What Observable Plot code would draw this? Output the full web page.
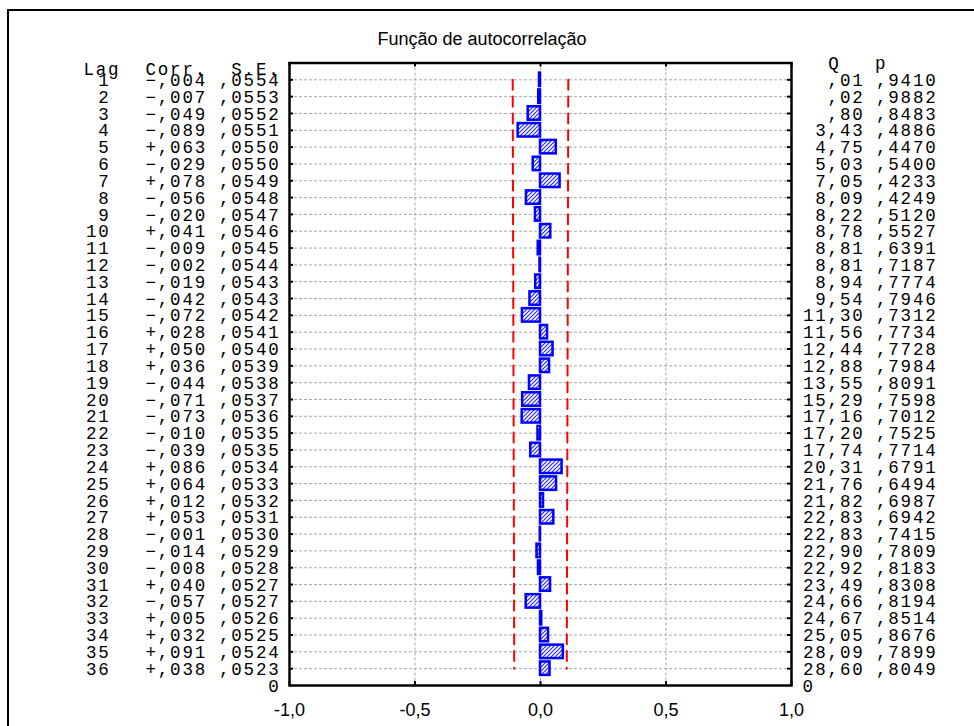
<!DOCTYPE html>
<html><head><meta charset="utf-8">
<script src="https://cdn.jsdelivr.net/npm/d3@7"></script>
<script src="https://cdn.jsdelivr.net/npm/@observablehq/plot@0.6"></script>
<style>
html,body{margin:0;padding:0;background:#fff;}
#wrap{position:relative;width:974px;height:726px;overflow:hidden;background:#fff;}
#wrap svg{position:absolute;left:0;top:0;background:transparent;}
#border{position:absolute;left:6.7px;top:9.3px;width:1000px;height:1000px;border-left:2.5px solid #000;border-top:2.5px solid #000;pointer-events:none;}
g[font-family="Liberation Mono"]{letter-spacing:1.8px;}
</style></head><body><div id="wrap"></div>
<script>
// ---- data ----
const title = "Função de autocorrelação";
const lags = [1,2,3,4,5,6,7,8,9,10,11,12,13,14,15,16,17,18,19,20,21,22,23,24,25,26,27,28,29,30,31,32,33,34,35,36];
const corr = [-.004,-.007,-.049,-.089,.063,-.029,.078,-.056,-.020,.041,-.009,-.002,-.019,-.042,-.072,.028,.050,.036,-.044,-.071,-.073,-.010,-.039,.086,.064,.012,.053,-.001,-.014,-.008,.040,-.057,.005,.032,.091,.038];
const se = [.0554,.0553,.0552,.0551,.0550,.0550,.0549,.0548,.0547,.0546,.0545,.0544,.0543,.0543,.0542,.0541,.0540,.0539,.0538,.0537,.0536,.0535,.0535,.0534,.0533,.0532,.0531,.0530,.0529,.0528,.0527,.0527,.0526,.0525,.0524,.0523];
const qStat = [.01,.02,.80,3.43,4.75,5.03,7.05,8.09,8.22,8.78,8.81,8.81,8.94,9.54,11.30,11.56,12.44,12.88,13.55,15.29,17.16,17.20,17.74,20.31,21.76,21.82,22.83,22.83,22.90,22.92,23.49,24.66,24.67,25.05,28.09,28.60];
const pVal = [.9410,.9882,.8483,.4886,.4470,.5400,.4233,.4249,.5120,.5527,.6391,.7187,.7774,.7946,.7312,.7734,.7728,.7984,.8091,.7598,.7012,.7525,.7714,.6791,.6494,.6987,.6942,.7415,.7809,.8183,.8308,.8194,.8514,.8676,.7899,.8049];
const xTicks = [-1, -0.5, 0, 0.5, 1];
const leftHeaders = ["Lag", "Corr.", "S.E."];
const rightHeaders = ["Q", "p"];
const bottomLag = ["0"];

// ---- formatting ----
const fmtCorr = c => (c < 0 ? "−" : "+") + "," + String(Math.round(Math.abs(c) * 1000)).padStart(3, "0");
const fmtSE = s => "," + String(Math.round(s * 10000)).padStart(4, "0");
const fmtQ = v => v.toFixed(2).replace(".", ",").replace(/^0/, "");
const fmtP = v => "," + String(Math.round(v * 10000)).padStart(4, "0");
const fmtX = d => d.toFixed(1).replace(".", ",");

const rows = lags.map((lag, i) => ({lag, corr: corr[i], se: se[i], q: qStat[i], p: pVal[i]}));

const W = 974, H = 726;
const mL = 289, mR = 183, mT = 62.5, mB = 41;
const FW = W - mL - mR, FH = H - mT - mB;
const mono = {fontFamily: "Liberation Mono", fontSize: 17.5, fill: "#000", lineAnchor: "middle"};
const sans = {fontFamily: "Liberation Sans", fontSize: 18, fill: "#000", lineAnchor: "middle"};
const grid = {stroke: "#a8a8a8", strokeWidth: 1, strokeDasharray: "3,2"};
const red = {stroke: "#ff0000", strokeWidth: 2, strokeDasharray: "10,6.8"};

const svg = Plot.plot({
  width: W, height: H,
  marginLeft: mL, marginRight: mR, marginTop: mT, marginBottom: mB,
  x: {domain: [-1, 1], axis: null},
  y: {domain: [0, 37], reverse: true, axis: null},
  marks: [
    Plot.ruleY(lags, {y: d => d, ...grid}),
    Plot.ruleX(xTicks.slice(1, -1), {x: d => d, ...grid}),
    Plot.line(rows, {x: d => -2 * d.se, y: "lag", ...red}),
    Plot.line(rows, {x: d => 2 * d.se, y: "lag", ...red}),
    Plot.rect(rows, {x1: 0, x2: "corr", y1: d => d.lag - 0.4, y2: d => d.lag + 0.4,
      fill: "url(#hatch)", stroke: "#0000ff", strokeWidth: 2.5}),
    Plot.frame({stroke: "#000", strokeWidth: 2.5}),
    Plot.tickY(lags, {y: d => d, insetRight: FW - 4, stroke: "#000", strokeWidth: 2}),
    Plot.tickY(lags, {y: d => d, insetLeft: FW - 4, stroke: "#000", strokeWidth: 2}),
    Plot.tickX(xTicks, {x: d => d, insetTop: FH - 4, stroke: "#000", strokeWidth: 2}),
    Plot.tickX(xTicks, {x: d => d, insetBottom: FH - 4, stroke: "#000", strokeWidth: 2}),
    // title
    Plot.text([title], {text: d => d, frameAnchor: "top", dx: -58.5, dy: -24, ...sans}),
    // x tick labels
    Plot.text(xTicks, {x: d => d, text: fmtX, frameAnchor: "bottom", dy: 25, ...sans}),
    // left table
    Plot.text(leftHeaders.slice(0, 1), {text: d => d, frameAnchor: "top-left", textAnchor: "start", dx: -206, dy: 6, ...mono}),
    Plot.text(leftHeaders.slice(1, 2), {text: d => d, frameAnchor: "top-left", textAnchor: "end", dx: -82.5, dy: 6, ...mono}),
    Plot.text(leftHeaders.slice(2, 3), {text: d => d, frameAnchor: "top-left", textAnchor: "end", dx: -9, dy: 6, ...mono}),
    Plot.text(rows, {y: "lag", text: d => String(d.lag), frameAnchor: "left", textAnchor: "end", dx: -179, dy: 0.5, ...mono}),
    Plot.text(rows, {y: "lag", text: d => fmtCorr(d.corr), frameAnchor: "left", textAnchor: "end", dx: -82.5, dy: 0.5, ...mono}),
    Plot.text(rows, {y: "lag", text: d => fmtSE(d.se), frameAnchor: "left", textAnchor: "end", dx: -9, dy: 0.5, ...mono}),
    Plot.text(bottomLag, {text: d => d, frameAnchor: "bottom-left", textAnchor: "end", dx: -9, dy: 0.5, ...mono}),
    // right table
    Plot.text(rightHeaders.slice(0, 1), {text: d => d, frameAnchor: "top-right", textAnchor: "end", dx: 49, dy: 0.5, ...mono}),
    Plot.text(rightHeaders.slice(1, 2), {text: d => d, frameAnchor: "top-right", textAnchor: "start", dx: 83.5, dy: 0.5, ...mono}),
    Plot.text(rows, {y: "lag", text: d => fmtQ(d.q), frameAnchor: "right", textAnchor: "end", dx: 73, dy: 0.5, ...mono}),
    Plot.text(rows, {y: "lag", text: d => fmtP(d.p), frameAnchor: "right", textAnchor: "end", dx: 146, dy: 0.5, ...mono}),
    Plot.text(bottomLag, {text: d => d, frameAnchor: "bottom-right", textAnchor: "start", dx: 11, dy: 0.5, ...mono})
  ]
});

const defs = d3.select(svg).insert("defs", ":first-child");
const pat = defs.append("pattern").attr("id", "hatch").attr("patternUnits", "userSpaceOnUse")
  .attr("width", 4).attr("height", 4);
pat.append("rect").attr("width", 4).attr("height", 4).attr("fill", "#fff");
pat.append("path").attr("d", "M-1,1L1,-1M0,4L4,0M3,5L5,3").attr("stroke", "#2a2aff").attr("stroke-width", 1.2);

const wrap = document.getElementById("wrap");
wrap.appendChild(svg);
const border = document.createElement("div");
border.id = "border";
wrap.appendChild(border);
</script>
</body></html>
